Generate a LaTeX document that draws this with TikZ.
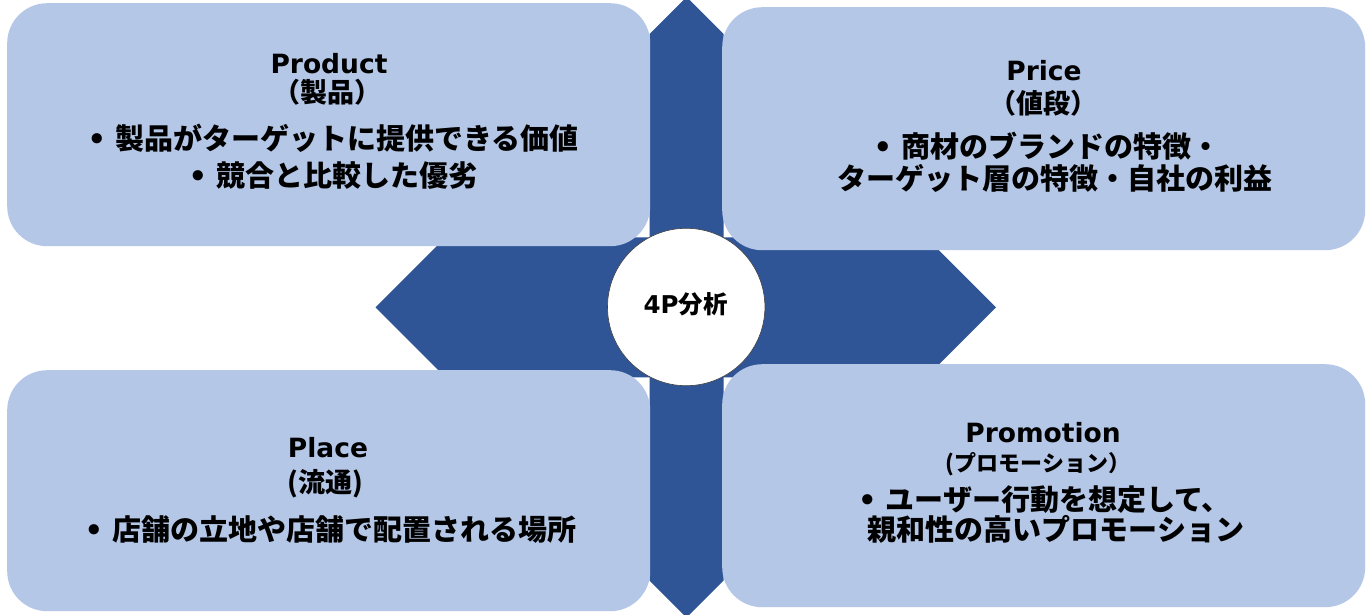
\documentclass[tikz,border=0pt]{standalone}
\usepackage{fontspec}
\setmainfont{DejaVu Sans}
\newfontfamily\jp{Noto Sans CJK JP}
\newfontfamily\lat{DejaVu Sans}
\definecolor{lightbox}{HTML}{B4C7E7}
\definecolor{darkblue}{HTML}{2F5597}
\newcommand{\bul}{{\lat\bfseries •}\hspace{9pt}}
\begin{document}
\begin{tikzpicture}[x=1pt,y=-1pt,
  boxshape/.style={fill=lightbox, rounded corners=40pt, inner sep=0pt, minimum width=643pt, anchor=north west},
  ttl/.style={font=\lat\bfseries\fontsize{26.5}{30}\selectfont, anchor=base, inner sep=0pt, text height=19pt, text depth=0pt},
  subttl/.style={font=\jp\bfseries\fontsize{27}{30}\selectfont, anchor=base, inner sep=0pt, text height=20pt, text depth=2pt},
  body/.style={font=\jp\bfseries\fontsize{29}{32}\selectfont, anchor=base, inner sep=0pt, text height=22pt, text depth=2pt}]
\useasboundingbox (0,0) rectangle (1371,614);
\fill[white] (0,0) rectangle (1371,614);
% dark cross
\fill[darkblue] (686.5,-3) -- (723.5,34) -- (723.5,237.3) -- (926,237.3) -- (996,307.3)
  -- (926,377.3) -- (723.5,377.3) -- (723.5,580.5) -- (686.5,617.5) -- (649.5,580.5)
  -- (649.5,377.3) -- (445.5,377.3) -- (375.5,307.3) -- (445.5,237.3) -- (649.5,237.3)
  -- (649.5,34) -- cycle;
% boxes
\node[boxshape, minimum height=243pt] (prodbox) at (7,3) {};
\node[boxshape, minimum height=243pt] (pricebox) at (722,7) {};
\node[boxshape, minimum height=241pt] (placebox) at (7,370) {};
\node[boxshape, minimum height=243pt] (promobox) at (722,364) {};
% centre circle
\node[circle, fill=white, draw=black!75, line width=0.6pt, minimum size=157.4pt, inner sep=0pt] (centre) at (686.2,307) {};
\node[anchor=base, inner sep=0pt, font=\bfseries\fontsize{24.5}{26}\selectfont] (centrelabel) at (685.5,313.5) {{\lat 4P}{\jp 分析}};
% Product
\node[ttl] (prodt) at (329,73.3) {Product};
\node[subttl] (prods) at (327,102.5) {（製品）};
\node[body] (prod1) at (333,149.5) {\bul 製品がターゲットに提供できる価値};
\node[body] (prod2) at (333,186) {\bul 競合と比較した優劣};
% Price
\node[ttl] (pricet) at (1044,80.7) {Price};
\node[subttl] (prices) at (1043,113.5) {（値段）};
\node[body] (price1) at (1047,157) {\bul 商材のブランドの特徴・};
\node[body] (price2) at (1054.5,189) {ターゲット層の特徴・自社の利益};
% Place
\node[ttl] (placet) at (328,457.3) {Place};
\node[subttl] (places) at (325,492) {(流通)};
\node[body] (place1) at (330.5,540) {\bul 店舗の立地や店舗で配置される場所};
% Promotion
\node[ttl] (promot) at (1043,442.7) {Promotion};
\node[subttl, font=\jp\bfseries\fontsize{22}{24}\selectfont, text height=17pt] (promos) at (1038,471.5) {(プロモーション）};
\node[body] (promo1) at (1044.5,510) {\bul ユーザー行動を想定して、};
\node[body] (promo2) at (1056,540) {親和性の高いプロモーション};
\end{tikzpicture}
\end{document}
